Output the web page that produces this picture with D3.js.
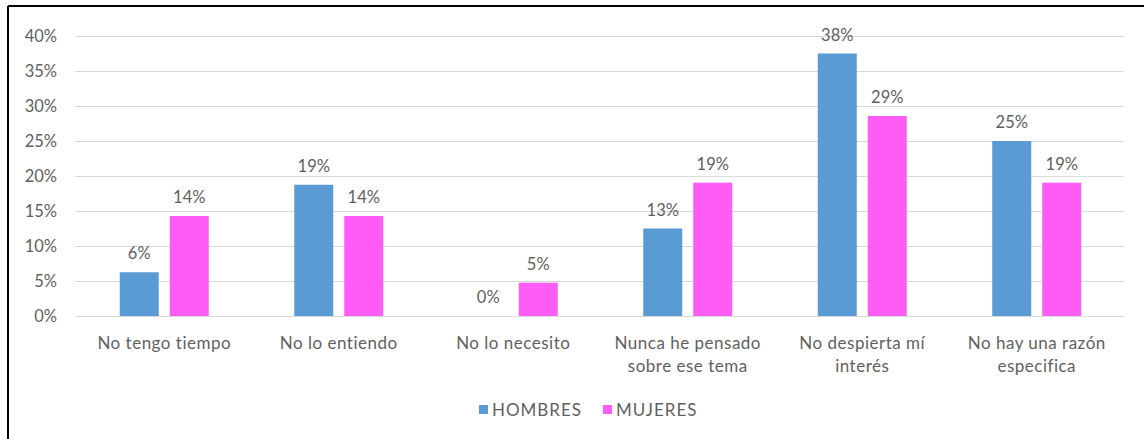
<!DOCTYPE html>
<html>
<head>
<meta charset="utf-8">
<script src="https://cdn.jsdelivr.net/npm/d3@7"></script>
<style>
  html, body { margin: 0; padding: 0; background: #fff; }
  svg { display: block; }
  text { font-family: Lato, "Open Sans", sans-serif; fill: #5f5f5f; }
</style>
</head>
<body>
<svg id="chart" width="1144" height="439"></svg>
<script>
// Reasons (each entry split into its display lines)
const categories = [
  ["No tengo tiempo"],
  ["No lo entiendo"],
  ["No lo necesito"],
  ["Nunca he pensado", "sobre ese tema"],
  ["No despierta mí", "interés"],
  ["No hay una razón", "especifica"]
];
const seriesNames = ["HOMBRES", "MUJERES"];
const hombres = [0.0625, 0.1875, 0, 0.125, 0.375, 0.25];
const mujeres = [0.1429, 0.1429, 0.0476, 0.1905, 0.2857, 0.1905];
const yTicks = [0, 0.05, 0.10, 0.15, 0.20, 0.25, 0.30, 0.35, 0.40];
const colors = ["#5B9BD5", "#FF5CF6"];

const svg = d3.select("#chart");
const pct = d3.format(".0%");

// frame
svg.append("line").attr("x1", 8).attr("x2", 1144).attr("y1", 6).attr("y2", 6)
  .attr("stroke", "#000").attr("stroke-width", 2);
svg.append("line").attr("x1", 8).attr("x2", 8).attr("y1", 6).attr("y2", 439)
  .attr("stroke", "#000").attr("stroke-width", 2);

const y = d3.scaleLinear().domain([0, 0.40]).range([316, 36]);
const x0 = d3.scaleBand().domain(d3.range(categories.length)).range([77, 1124]).padding(0);
const x1 = d3.scaleBand().domain(seriesNames).range([-44.5, 44.5]).paddingInner(0.22).paddingOuter(0);

// gridlines + y tick labels
const yAxis = d3.axisLeft(y).tickValues(yTicks).tickFormat(d3.format(".0%"))
  .tickSize(-(1124 - 75)).tickPadding(18);
const gy = svg.append("g").attr("transform", "translate(75,0)").call(yAxis);
gy.select(".domain").remove();
gy.selectAll(".tick line").attr("stroke", "#d9d9d9").attr("stroke-width", 1);
gy.selectAll(".tick text").attr("font-size", 16.5).attr("fill", "#5f5f5f")
  .style("font-family", "Lato, 'Open Sans', sans-serif");

// bars
const data = [hombres, mujeres];
seriesNames.forEach((name, s) => {
  const g = svg.append("g");
  g.selectAll("rect").data(data[s]).join("rect")
    .attr("x", (d, i) => x0(i) + x0.bandwidth() / 2 + x1(name))
    .attr("y", d => y(d))
    .attr("width", x1.bandwidth())
    .attr("height", d => y(0) - y(d))
    .attr("fill", colors[s]);
  g.selectAll("text").data(data[s]).join("text")
    .attr("x", (d, i) => x0(i) + x0.bandwidth() / 2 + x1(name) + x1.bandwidth() / 2)
    .attr("y", d => y(d) - 13)
    .attr("text-anchor", "middle")
    .attr("font-size", 16.5)
    .text(d => pct(d));
});

// category labels
const gx = svg.append("g");
categories.forEach((lines, i) => {
  const t = gx.append("text")
    .attr("x", x0(i) + x0.bandwidth() / 2)
    .attr("y", 349)
    .attr("text-anchor", "middle")
    .attr("font-size", 17)
    .attr("letter-spacing", 0.5);
  lines.forEach((ln, k) => {
    t.append("tspan").attr("x", x0(i) + x0.bandwidth() / 2)
      .attr("dy", k === 0 ? 0 : 23).text(ln);
  });
});

// legend
const legendX = [479, 603];
seriesNames.forEach((name, s) => {
  svg.append("rect").attr("x", legendX[s]).attr("y", 405).attr("width", 9).attr("height", 9)
    .attr("fill", colors[s]);
  svg.append("text").attr("x", legendX[s] + 13).attr("y", 416)
    .attr("font-size", 17).attr("letter-spacing", 1).text(name);
});
</script>
</body>
</html>
